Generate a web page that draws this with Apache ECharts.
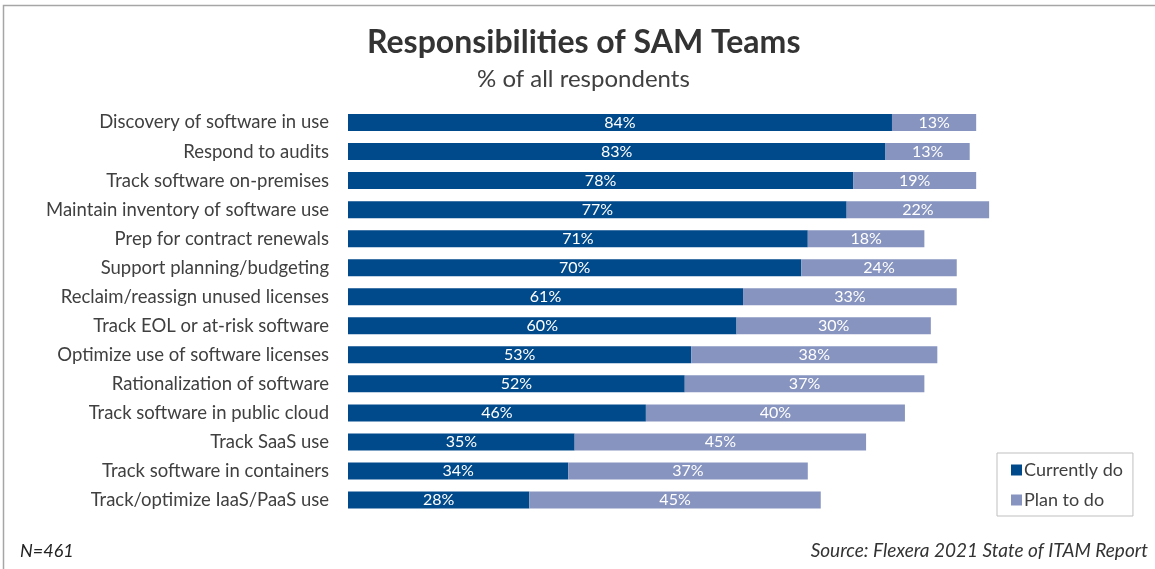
<!DOCTYPE html>
<html>
<head>
<meta charset="utf-8">
<script src="https://cdn.jsdelivr.net/npm/echarts@6/dist/echarts.min.js"></script>
<style>
  html, body { margin: 0; padding: 0; background: #fff; }
  #chart { width: 1155px; height: 569px; }
</style>
</head>
<body>
<div id="chart"></div>
<script>
// Responsibilities of SAM teams, % of all respondents
const categories = [
  'Discovery of software in use',
  'Respond to audits',
  'Track software on-premises',
  'Maintain inventory of software use',
  'Prep for contract renewals',
  'Support planning/budgeting',
  'Reclaim/reassign unused licenses',
  'Track EOL or at-risk software',
  'Optimize use of software licenses',
  'Rationalization of software',
  'Track software in public cloud',
  'Track SaaS use',
  'Track software in containers',
  'Track/optimize IaaS/PaaS use'
];
const currentlyDo = [84, 83, 78, 77, 71, 70, 61, 60, 53, 52, 46, 35, 34, 28];
const planToDo    = [13, 13, 19, 22, 18, 24, 33, 30, 38, 37, 40, 45, 37, 45];

const FONT = 'Lato, "Open Sans", sans-serif';
const TEXT = '#404040';

const chart = echarts.init(document.getElementById('chart'), null, { renderer: 'canvas' });

const barLabel = {
  show: true,
  position: 'inside',
  color: '#ffffff',
  fontFamily: FONT,
  fontSize: 16,
  formatter: p => p.value + '%'
};

chart.setOption({
  animation: false,
  backgroundColor: '#ffffff',
  title: [
    {
      text: 'Responsibilities of SAM Teams',
      left: 362,
      top: 22,
      textStyle: { fontFamily: FONT, fontSize: 32, fontWeight: 'bold', color: '#333333' }
    },
    {
      text: '% of all respondents',
      left: 472,
      top: 62,
      textStyle: { fontFamily: FONT, fontSize: 24, fontWeight: 'normal', color: TEXT }
    }
  ],
  legend: {
    orient: 'vertical',
    left: 997,
    top: 453,
    padding: [8, 10, 7, 14],
    itemGap: 12,
    itemWidth: 11,
    itemHeight: 11,
    icon: 'rect',
    borderColor: '#bfbfbf',
    borderWidth: 1,
    textStyle: { fontFamily: FONT, fontSize: 18, color: TEXT, padding: [0, 0, 0, -3] },
    data: ['Currently do', 'Plan to do']
  },
  grid: { left: 348, right: 159.4, top: 108, bottom: 54.5, containLabel: false },
  xAxis: {
    type: 'value',
    min: 0,
    max: 100,
    show: false
  },
  yAxis: {
    type: 'category',
    data: categories,
    inverse: true,
    axisLine: { show: false },
    axisTick: { show: false },
    axisLabel: { fontFamily: FONT, fontSize: 18.5, color: TEXT, margin: 19 }
  },
  series: [
    {
      name: 'Currently do',
      type: 'bar',
      stack: 'total',
      data: currentlyDo,
      barWidth: 17,
      itemStyle: { color: '#004a8b' },
      label: barLabel
    },
    {
      name: 'Plan to do',
      type: 'bar',
      stack: 'total',
      data: planToDo,
      barWidth: 17,
      itemStyle: { color: '#8794bf' },
      label: barLabel
    }
  ],
  graphic: [
    {
      type: 'rect',
      silent: true,
      shape: { x: 3.5, y: 5.5, width: 1160, height: 600 },
      style: { fill: 'none', stroke: '#a6a6a6', lineWidth: 1.5 }
    },
    {
      type: 'text',
      left: 20,
      top: 542,
      style: { text: 'N=461', font: 'italic 18px ' + FONT, fill: '#222222' }
    },
    {
      type: 'text',
      right: 7,
      top: 541,
      style: { text: 'Source: Flexera 2021 State of ITAM Report', font: 'italic 19px ' + FONT, fill: '#333333' }
    }
  ]
});
</script>
</body>
</html>
